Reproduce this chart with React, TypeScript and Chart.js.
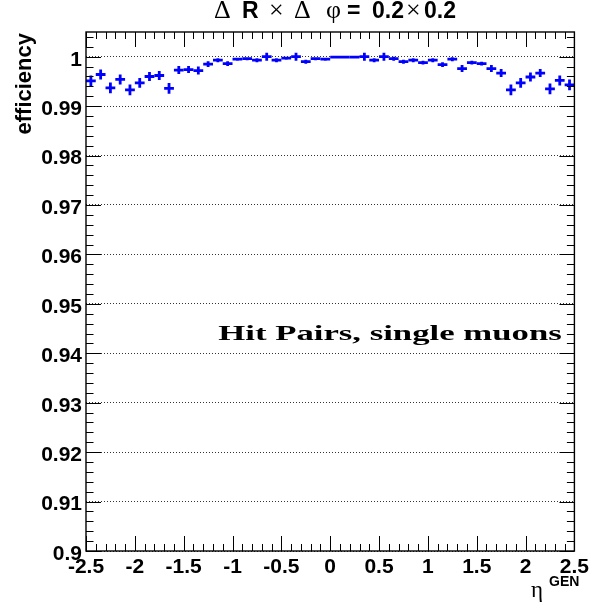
import React, { useEffect, useRef } from "react";
import { Chart, registerables } from "chart.js";

Chart.register(...registerables);

// ---- data ----
const etaBins = [
  -2.45, -2.35, -2.25, -2.15, -2.05, -1.95, -1.85, -1.75, -1.65, -1.55,
  -1.45, -1.35, -1.25, -1.15, -1.05, -0.95, -0.85, -0.75, -0.65, -0.55,
  -0.45, -0.35, -0.25, -0.15, -0.05, 0.05, 0.15, 0.25, 0.35, 0.45,
  0.55, 0.65, 0.75, 0.85, 0.95, 1.05, 1.15, 1.25, 1.35, 1.45,
  1.55, 1.65, 1.75, 1.85, 1.95, 2.05, 2.15, 2.25, 2.35, 2.45,
];
const efficiency = [
  0.9951, 0.9964, 0.9937, 0.9954, 0.9933, 0.9947, 0.996, 0.9962, 0.9936, 0.9973,
  0.9974, 0.9972, 0.9985, 0.9993, 0.9986, 0.9995, 0.9996, 0.9993, 1.0, 0.9993,
  0.9997, 1.0, 0.999, 0.9996, 0.9995, 0.9999, 0.9999, 0.9999, 1.0, 0.9993,
  1.0, 0.9996, 0.999, 0.9993, 0.9988, 0.9993, 0.9984, 0.9995, 0.9976, 0.9988,
  0.9986, 0.9976, 0.9967, 0.9933, 0.9947, 0.9959, 0.9967, 0.9935, 0.9952, 0.9943,
];
const effError = [
  0.0011, 0.001, 0.0011, 0.001, 0.0011, 0.001, 0.0009, 0.0009, 0.0011, 0.0008,
  0.0007, 0.0008, 0.0006, 0.0004, 0.0005, 0.0003, 0.0003, 0.0004, 0.0008, 0.0004,
  0.0003, 0.0008, 0.0004, 0.0003, 0.0003, 0.0001, 0.0001, 0.0001, 0.0008, 0.0004,
  0.0008, 0.0004, 0.0004, 0.0004, 0.0004, 0.0004, 0.0005, 0.0004, 0.0007, 0.0004,
  0.0004, 0.0007, 0.0008, 0.0011, 0.001, 0.0009, 0.0008, 0.0011, 0.001, 0.0011,
];
const binWidth = 0.1;

const xTickValues = [-2.5, -2, -1.5, -1, -0.5, 0, 0.5, 1, 1.5, 2, 2.5];
const xTickLabels = ["-2.5", "-2", "-1.5", "-1", "-0.5", "0", "0.5", "1", "1.5", "2", "2.5"];
const yTickValues = [0.9, 0.91, 0.92, 0.93, 0.94, 0.95, 0.96, 0.97, 0.98, 0.99, 1.0];
const yTickLabels = ["0.9", "0.91", "0.92", "0.93", "0.94", "0.95", "0.96", "0.97", "0.98", "0.99", "1"];

const yAxisTitle = "efficiency";
const xAxisTitleMain = "η";
const xAxisTitleSup = "GEN";
const annotationText = "Hit Pairs, single muons";

const SANS = '"Liberation Sans", Arial, sans-serif';
const SERIF = '"Liberation Serif", "Times New Roman", serif';

const rootStylePlugin = {
  id: "rootStyle",
  afterDatasetsDraw(chart: any) {
    const ctx = chart.ctx as CanvasRenderingContext2D;
    const xs = chart.scales.x;
    const ys = chart.scales.y;
    const a = chart.chartArea;

    // data crosses
    ctx.save();
    ctx.beginPath();
    ctx.rect(a.left, a.top, a.right - a.left, a.bottom - a.top);
    ctx.clip();
    ctx.strokeStyle = "#0000ff";
    ctx.lineWidth = 2.8;
    etaBins.forEach((eta, i) => {
      const v = efficiency[i];
      const e = effError[i];
      const x0 = xs.getPixelForValue(eta - binWidth / 2);
      const x1 = xs.getPixelForValue(eta + binWidth / 2);
      const xc = xs.getPixelForValue(eta);
      const yc = ys.getPixelForValue(v);
      const y0 = ys.getPixelForValue(v - e);
      const y1 = ys.getPixelForValue(v + e);
      ctx.beginPath();
      ctx.moveTo(x0, yc);
      ctx.lineTo(x1, yc);
      ctx.moveTo(xc, y0);
      ctx.lineTo(xc, y1);
      ctx.stroke();
    });
    ctx.restore();

    // frame and ticks
    ctx.save();
    ctx.strokeStyle = "#000";
    ctx.lineWidth = 1.4;
    ctx.strokeRect(a.left, a.top, a.right - a.left, a.bottom - a.top);
    ctx.lineWidth = 1;
    ctx.beginPath();
    for (let i = -25; i <= 25; i++) {
      const major = i % 5 === 0;
      const len = major ? 15 : 7;
      const x = Math.round(xs.getPixelForValue(i / 10)) + 0.5;
      ctx.moveTo(x, a.bottom);
      ctx.lineTo(x, a.bottom - len);
      ctx.moveTo(x, a.top);
      ctx.lineTo(x, a.top + len);
    }
    for (let j = 0; j <= 52; j++) {
      const major = j % 5 === 0;
      const len = major ? 15 : 7.5;
      const y = Math.round(ys.getPixelForValue(0.9 + j * 0.002)) + 0.5;
      ctx.moveTo(a.left, y);
      ctx.lineTo(a.left + len, y);
      ctx.moveTo(a.right, y);
      ctx.lineTo(a.right - len, y);
    }
    ctx.stroke();
    ctx.restore();

    // texts
    ctx.save();
    ctx.fillStyle = "#000";
    ctx.textBaseline = "alphabetic";

    // title pieces
    const baseY = 18;
    const symFont = `26px ${SERIF}`;
    const boldFont = `bold 23px ${SANS}`;
    const pieces: [string, string, number][] = [
      ["Δ", symFont, 214],
      ["R", boldFont, 242],
      ["×", symFont, 269],
      ["Δ", symFont, 294],
      ["φ", symFont, 326],
      ["=", boldFont, 347],
      ["0.2", boldFont, 372],
      ["×", symFont, 406],
      ["0.2", boldFont, 424],
    ];
    ctx.textAlign = "left";
    for (const [t, f, x] of pieces) {
      ctx.font = f;
      ctx.fillText(t, x, baseY);
    }

    // y axis title
    ctx.save();
    ctx.translate(31, a.top + 1);
    ctx.rotate(-Math.PI / 2);
    ctx.font = `bold 22px ${SANS}`;
    ctx.textAlign = "right";
    ctx.fillText(yAxisTitle, 0, 0);
    ctx.restore();

    // x axis title
    ctx.font = `23px ${SERIF}`;
    ctx.textAlign = "left";
    ctx.fillText(xAxisTitleMain, 531, 597);
    ctx.font = `bold 14px ${SANS}`;
    ctx.fillText(xAxisTitleSup, 549, 586);

    // annotation text
    ctx.font = `bold 22px ${SERIF}`;
    const w = ctx.measureText(annotationText).width;
    const ax = xs.getPixelForValue(-1.146);
    const ax2 = xs.getPixelForValue(2.37);
    const ay = ys.getPixelForValue(0.9426);
    ctx.save();
    ctx.translate(ax, ay);
    ctx.scale((ax2 - ax) / w, 1);
    ctx.fillText(annotationText, 0, 0);
    ctx.restore();

    ctx.restore();
  },
};

export default function App() {
  const canvasRef = useRef<HTMLCanvasElement | null>(null);

  useEffect(() => {
    const canvas = canvasRef.current;
    if (!canvas) return;
    const chart = new Chart(canvas, {
      type: "scatter",
      data: {
        datasets: [
          {
            label: "efficiency",
            data: etaBins.map((x, i) => ({ x, y: efficiency[i] })),
            pointRadius: 0,
            showLine: false,
          },
        ],
      },
      options: {
        animation: false,
        responsive: false,
        devicePixelRatio: 1,
        layout: { padding: { top: 32, right: 12, left: 0, bottom: 0 } },
        plugins: {
          legend: { display: false },
          title: { display: false },
          tooltip: { enabled: false },
        },
        scales: {
          x: {
            type: "linear",
            min: -2.5,
            max: 2.5,
            afterBuildTicks: (scale: any) => {
              scale.ticks = xTickValues.map((v) => ({ value: v }));
            },
            afterFit: (scale: any) => {
              scale.height = 52;
            },
            ticks: {
              autoSkip: false,
              maxRotation: 0,
              padding: 4,
              color: "#000",
              font: { family: SANS, weight: "bold", size: 21 },
              callback: (_v: any, i: number) => xTickLabels[i],
            },
            grid: { display: false, drawTicks: false },
            border: { display: false },
          },
          y: {
            type: "linear",
            min: 0.9,
            max: 1.005,
            afterBuildTicks: (scale: any) => {
              scale.ticks = yTickValues.map((v) => ({ value: v }));
            },
            afterFit: (scale: any) => {
              scale.width = 86;
            },
            ticks: {
              autoSkip: false,
              padding: 4,
              labelOffset: 3,
              color: "#000",
              font: { family: SANS, weight: "bold", size: 21 },
              callback: (_v: any, i: number) => yTickLabels[i],
            },
            grid: { display: true, drawTicks: false, color: "#333", lineWidth: 1 },
            border: { display: false, dash: [1, 2] },
          },
        },
      },
      plugins: [rootStylePlugin],
    } as any);
    return () => chart.destroy();
  }, []);

  return (
    <div style={{ position: "absolute", left: 0, top: 0, width: 593, height: 603, background: "#fff" }}>
      <canvas ref={canvasRef} width={593} height={603} style={{ display: "block" }} />
    </div>
  );
}
